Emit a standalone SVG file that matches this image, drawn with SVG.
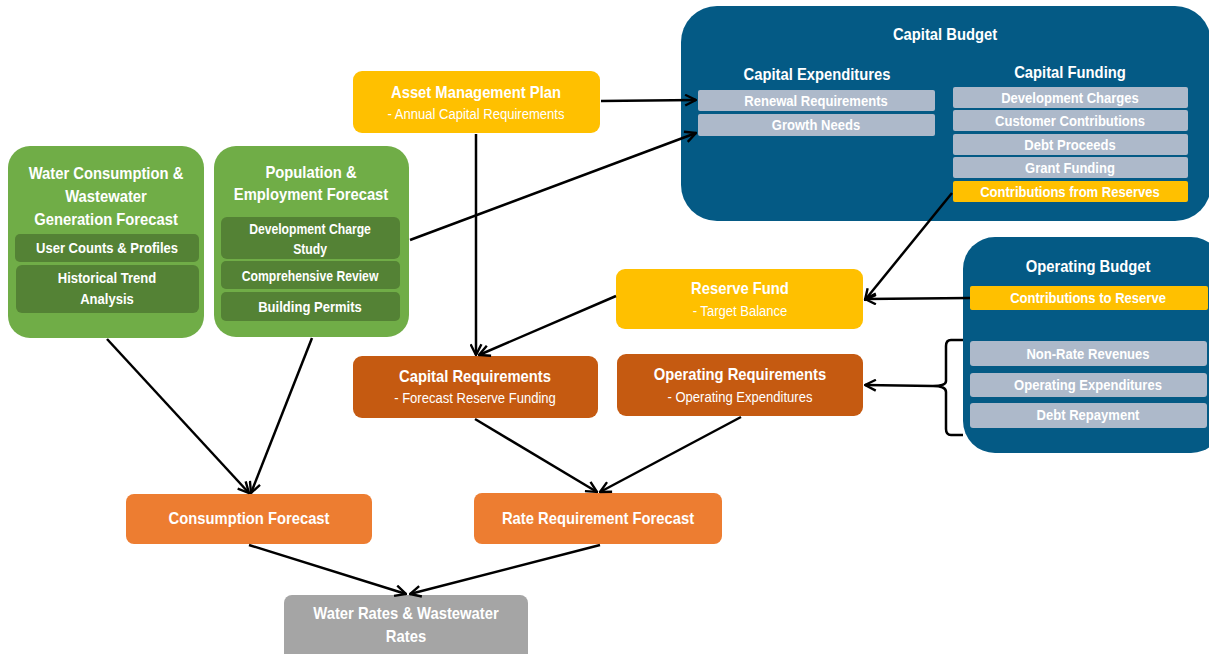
<svg xmlns="http://www.w3.org/2000/svg" width="1209" height="654" viewBox="0 0 1209 654">
<defs>
<style>
text{font-family:"Liberation Sans Narrow","Arial Narrow","Liberation Sans",sans-serif;fill:#fff;text-anchor:middle;dominant-baseline:central;transform-box:fill-box;transform-origin:center;transform:scaleX(0.87)}
.t{font-size:17px;font-weight:bold}
.s{font-size:15px}
.b{font-size:15px;font-weight:bold}
.sb{font-size:14px;font-weight:bold}
.green{fill:#70AD47}
.dgreen{fill:#548235}
.blue{fill:#045A85}
.grey{fill:#ADB9CA}
.yellow{fill:#FFC000}
.rust{fill:#C55A11}
.orange{fill:#ED7D31}
.lgrey{fill:#A5A5A5}
.c{stroke:#000;stroke-width:2.5;fill:none}
</style>
<marker id="ah" viewBox="0 0 12 12" refX="11" refY="6" markerWidth="13" markerHeight="13" markerUnits="userSpaceOnUse" orient="auto">
<path d="M1,1 L11,6 L1,11" fill="none" stroke="#000" stroke-width="2.2"/>
</marker>
</defs>
<rect width="1209" height="654" fill="#fff"/>

<g id="water-consumption">
<rect class="green" x="8" y="146" width="196" height="192" rx="22"/>
<text class="t" x="106" y="173">Water Consumption &amp;</text>
<text class="t" x="106" y="196">Wastewater</text>
<text class="t" x="106" y="219">Generation Forecast</text>
<rect class="dgreen" x="15" y="234" width="184" height="28" rx="5"/>
<text class="b" x="107" y="248">User Counts &amp; Profiles</text>
<rect class="dgreen" x="16" y="265" width="183" height="48" rx="6"/>
<text class="b" x="107" y="278">Historical Trend</text>
<text class="b" x="107" y="299">Analysis</text>
</g>

<g id="population">
<rect class="green" x="214" y="146" width="195" height="191" rx="22"/>
<text class="t" x="311" y="172">Population &amp;</text>
<text class="t" x="311" y="194">Employment Forecast</text>
<rect class="dgreen" x="221" y="217" width="179" height="42" rx="6"/>
<text class="sb" x="310" y="229">Development Charge</text>
<text class="sb" x="310" y="249">Study</text>
<rect class="dgreen" x="221" y="261" width="179" height="28" rx="5"/>
<text class="sb" x="310" y="276">Comprehensive Review</text>
<rect class="dgreen" x="221" y="292" width="179" height="29" rx="5"/>
<text class="b" x="310" y="307">Building Permits</text>
</g>

<g id="asset-management">
<rect class="yellow" x="353" y="71" width="247" height="62" rx="9"/>
<text class="t" x="476" y="92">Asset Management Plan</text>
<text class="s" x="476" y="114">- Annual Capital Requirements</text>
</g>

<g id="capital-budget">
<rect class="blue" x="681" y="6" width="530" height="215" rx="36"/>
<text class="t" x="945" y="34">Capital Budget</text>
<text class="t" x="817" y="74">Capital Expenditures</text>
<text class="t" x="1070" y="72">Capital Funding</text>
<rect class="grey" x="698" y="90" width="237" height="21" rx="2"/>
<text class="b" x="816" y="101">Renewal Requirements</text>
<rect class="grey" x="698" y="114" width="237" height="22" rx="2"/>
<text class="b" x="816" y="125">Growth Needs</text>
<rect class="grey" x="953" y="87" width="235" height="21" rx="2"/>
<text class="b" x="1070" y="98">Development Charges</text>
<rect class="grey" x="953" y="110" width="235" height="21" rx="2"/>
<text class="b" x="1070" y="121">Customer Contributions</text>
<rect class="grey" x="953" y="134" width="235" height="21" rx="2"/>
<text class="b" x="1070" y="145">Debt Proceeds</text>
<rect class="grey" x="953" y="157" width="235" height="21" rx="2"/>
<text class="b" x="1070" y="168">Grant Funding</text>
<rect class="yellow" x="953" y="181" width="235" height="21" rx="2"/>
<text class="b" x="1070" y="192">Contributions from Reserves</text>
</g>

<g id="reserve-fund">
<rect class="yellow" x="616" y="269" width="247" height="60" rx="9"/>
<text class="t" x="740" y="288">Reserve Fund</text>
<text class="s" x="740" y="311">- Target Balance</text>
</g>

<g id="operating-budget">
<rect class="blue" x="963" y="237" width="260" height="216" rx="32"/>
<text class="t" x="1088" y="266">Operating Budget</text>
<rect class="yellow" x="970" y="286" width="238" height="24" rx="2"/>
<text class="b" x="1088" y="298">Contributions to Reserve</text>
<rect class="grey" x="970" y="341" width="237" height="25" rx="3"/>
<text class="b" x="1088" y="354">Non-Rate Revenues</text>
<rect class="grey" x="970" y="373" width="237" height="24" rx="3"/>
<text class="b" x="1088" y="385">Operating Expenditures</text>
<rect class="grey" x="970" y="403" width="237" height="25" rx="3"/>
<text class="b" x="1088" y="415">Debt Repayment</text>
</g>

<g id="capital-requirements">
<rect class="rust" x="353" y="356" width="245" height="62" rx="9"/>
<text class="t" x="475" y="376">Capital Requirements</text>
<text class="s" x="475" y="398">- Forecast Reserve Funding</text>
</g>

<g id="operating-requirements">
<rect class="rust" x="617" y="354" width="246" height="62" rx="9"/>
<text class="t" x="740" y="374">Operating Requirements</text>
<text class="s" x="740" y="397">- Operating Expenditures</text>
</g>

<g id="consumption-forecast">
<rect class="orange" x="126" y="494" width="246" height="50" rx="8"/>
<text class="t" x="249" y="518">Consumption Forecast</text>
</g>

<g id="rate-requirement-forecast">
<rect class="orange" x="474" y="493" width="248" height="51" rx="8"/>
<text class="t" x="598" y="518">Rate Requirement Forecast</text>
</g>

<g id="water-rates">
<rect class="lgrey" x="284" y="595" width="244" height="70" rx="8"/>
<text class="t" x="406" y="613">Water Rates &amp; Wastewater</text>
<text class="t" x="406" y="636">Rates</text>
</g>

<g id="connectors">
<path class="c" d="M601,101 L696,100" marker-end="url(#ah)"/>
<path class="c" d="M410,240 L696,133" marker-end="url(#ah)"/>
<path class="c" d="M476,134 L476,355" marker-end="url(#ah)"/>
<path class="c" d="M616,296 L479,355" marker-end="url(#ah)"/>
<path class="c" d="M952,193 L865,300" marker-end="url(#ah)"/>
<path class="c" d="M970,298 L865,299" marker-end="url(#ah)"/>
<path class="c" d="M933,386 L865,385" marker-end="url(#ah)"/>
<path class="c" stroke-width="1.8" d="M963,340 L951,340 Q946,340 946,346 L946,381 Q946,386 933,386 Q946,386 946,392 L946,429 Q946,435 951,435 L963,435"/>
<path class="c" d="M107,339 L249,493" marker-end="url(#ah)"/>
<path class="c" d="M312,338 L251,493" marker-end="url(#ah)"/>
<path class="c" d="M475,419 L597,492" marker-end="url(#ah)"/>
<path class="c" d="M741,417 L600,492" marker-end="url(#ah)"/>
<path class="c" d="M249,545 L406,594" marker-end="url(#ah)"/>
<path class="c" d="M600,545 L410,594" marker-end="url(#ah)"/>
</g>
</svg>
